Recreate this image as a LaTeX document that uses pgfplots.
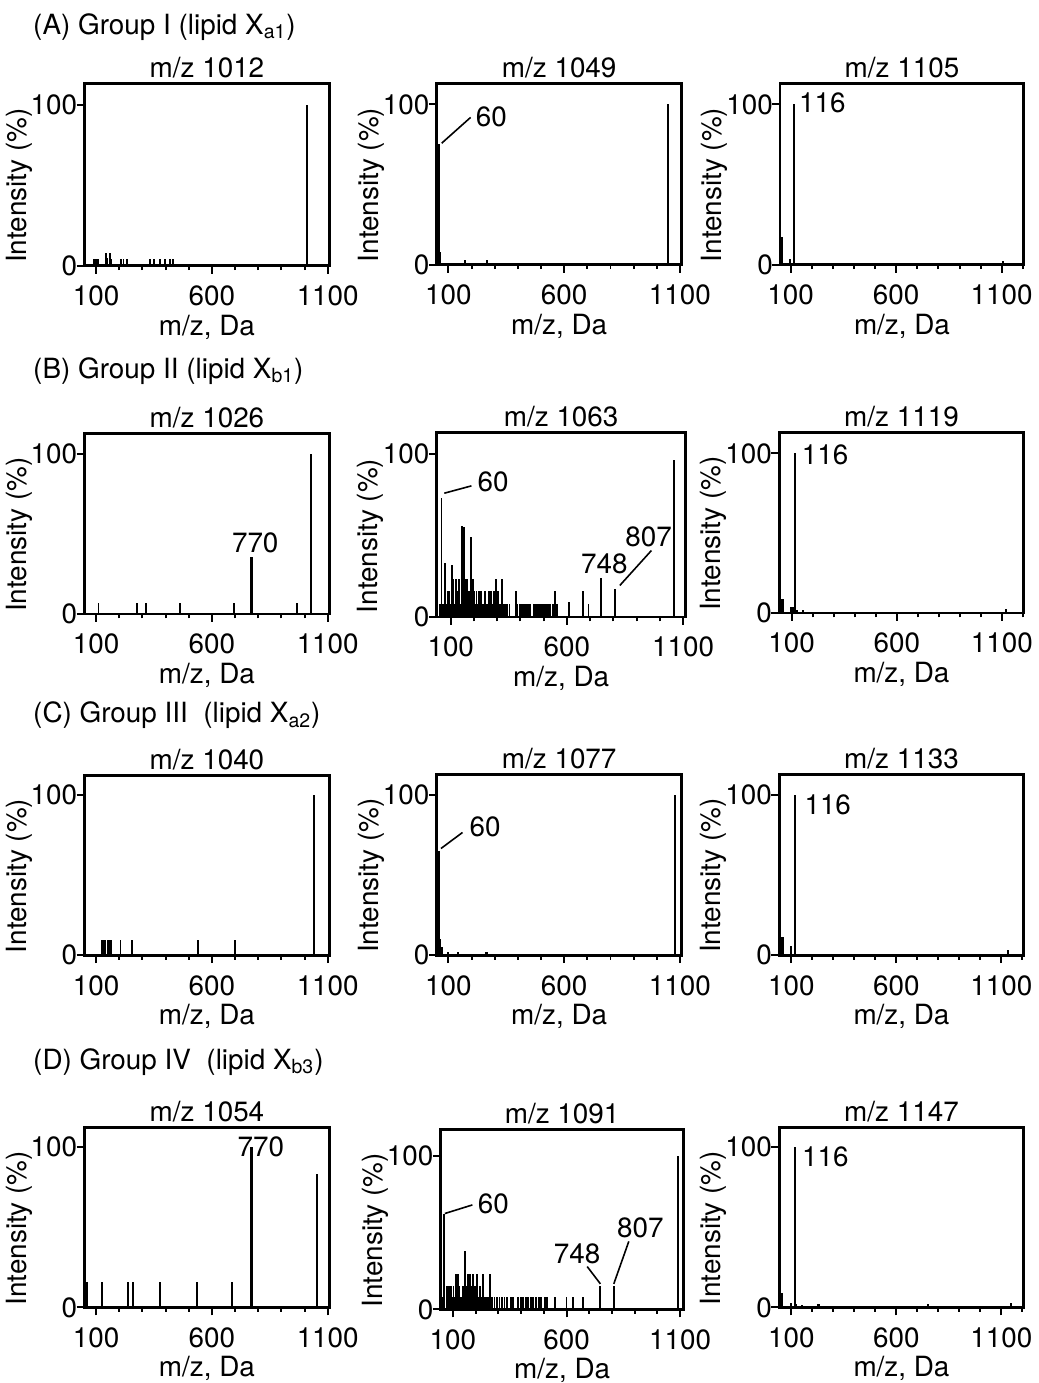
\documentclass[border=0pt]{standalone}
\usepackage{fontspec}
\setmainfont{TeX Gyre Heros}
\usepackage{pgfplots}
\pgfplotsset{compat=1.18}
\newcommand\fs{\fontsize{14bp}{16.5bp}\selectfont}
\tikzset{
 ann/.style={anchor=west, inner sep=0pt, font=\fs},
 annc/.style={anchor=center, inner sep=0pt, font=\fs},
 ld/.style={line width=0.8bp},
}
\pgfplotsset{
 ms/.style={
  scale only axis, anchor=south west, clip=false,
  ymin=0,
  axis line style={line width=1.4bp},
  xtick={100,600,1100}, xticklabels={100,600,1100},
  ytick={0,100}, yticklabels={0,100},
  minor xtick={200,300,400,500,700,800,900,1000},
  tick align=outside, xtick pos=left, ytick pos=left,
  major tick length=4bp, minor tick length=2.2bp,
  every tick/.style={line width=1bp, black},
  xticklabel style={anchor=north, inner sep=0pt, yshift=-6bp, font=\fs},
  yticklabel style={anchor=east, inner sep=0pt, xshift=0.5bp, font=\fs},
  xlabel={m/z, Da}, ylabel={Intensity (\%)},
  every axis x label/.style={at={(axis description cs:0.5,0)}, anchor=north, inner sep=0pt, yshift=-24.5bp, font=\fs},
  every axis y label/.style={at={(axis description cs:-0.212,0.44)}, rotate=90, anchor=south, inner sep=0pt, font=\fs},
  every axis title/.style={at={(axis description cs:0.5,1)}, anchor=south, inner sep=0pt, yshift=2.5bp, font=\fs},
 },
 c3/.style={minor xtick={200,300,400,500,700,800,900,1000,1200}},
 pk/.style={ycomb, black, line width=0.95bp, mark=none},
 pkt/.style={ycomb, black, line width=1.6bp, mark=none},
}
\begin{document}
\begin{tikzpicture}
\path (0,0) rectangle (522bp,-691.5bp);
\node[anchor=west,inner sep=0pt,font=\fs] at (16.5bp,-13.5bp) {(A) Group I (lipid X\textsubscript{a1})};
\node[anchor=west,inner sep=0pt,font=\fs] at (16.5bp,-186.5bp) {(B) Group II (lipid X\textsubscript{b1})};
\node[anchor=west,inner sep=0pt,font=\fs] at (16.5bp,-359.5bp) {(C) Group III\ \ (lipid X\textsubscript{a2})};
\node[anchor=west,inner sep=0pt,font=\fs] at (16.5bp,-533.5bp) {(D) Group IV\ \ (lipid X\textsubscript{b3})};

% ---------- Row A ----------
\begin{axis}[ms, at={(42.5bp,-133.5bp)}, width=123bp, height=91.5bp, xmin=50, xmax=1107, ymax=113, title={m/z 1012}]
\addplot[pk] coordinates {(90,4)(98,4)(108,4)(143,8)(147,5)(159,8)(165,4)(209,4)(218,4)(232,4)(331,4)(348,4)(377,4)(397,4)(417,4)(432,4)(1012,100)};
\end{axis}
\begin{axis}[ms, at={(219.5bp,-133bp)}, width=123bp, height=91bp, xmin=50, xmax=1107, ymax=113, title={m/z 1049}]
\addplot[pk] coordinates {(52,15)(56,18)(60,75)(64,8)(171,3)(268,3)(1049,100)};
\draw[ld] (axis cs:71,75.8) -- (axis cs:196,91.9);
\node[ann] at (axis cs:217,92) {60};
\end{axis}
\begin{axis}[ms, c3, at={(392bp,-133bp)}, width=122.5bp, height=91bp, xmin=50, xmax=1205, ymax=113, title={m/z 1105}]
\addplot[pk] coordinates {(52,17)(56,17)(60,17)(97,3.5)(116,100)(124,1)(183,1)(1105,2)};
\node[ann] at (axis cs:138,101) {116};
\end{axis}

% ---------- Row B ----------
\begin{axis}[ms, at={(42.5bp,-308.5bp)}, width=123bp, height=90.5bp, xmin=50, xmax=1107, ymax=112.4, title={m/z 1026}]
\addplot[pk] coordinates {(110,6.6)(275,6.6)(315,6.6)(462,6.6)(696,6.6)(966,6.6)(1026,100)};
\addplot[pkt] coordinates {(770,35.8)};
\node[anchor=south,inner sep=0pt,font=\fs] at (axis cs:787,38) {770};
\end{axis}
\begin{axis}[ms, at={(219.5bp,-310bp)}, width=125bp, height=92.5bp, xmin=40, xmax=1111, ymax=112.8, title={m/z 1063}]
\addplot[pk] coordinates {(52,8)(60,72.8)(64,8)(70,8)(77,33)(82,8)(86,16)(93,16)(99,8)(106,32)(111,23)(116,8)(121,23)(125,8)(129,16)(133,8)(137,23)(143,8)(150,56)(154,16)(157,55)(160,8)(164,23)(168,8)(171,23)(175,8)(179,16)(183,8)(187,49)(191,8)(194,23)(197,8)(200,16)(205,8)(211,16)(216,8)(221,16)(225,8)(229,16)(235,8)(240,8)(246,16)(250,8)(254,8)(259,8)(264,16)(269,8)(274,16)(280,8)(286,16)(290,8)(294,23)(298,8)(303,16)(307,8)(311,8)(319,23)(322,8)(326,8)(331,8)(336,8)(343,8)(353,8)(379,16)(386,8)(397,8)(406,8)(414,8)(423,8)(431,8)(440,8)(457,8)(466,8)(474,8)(483,8)(493,8)(500,8)(509,8)(517,8)(529,8)(539,8)(549,16)(557,8)(610,9)(669,16)(693,8)(748,24)(807,17)(1063,96)};
\draw[ld] (axis cs:72,75.8) -- (axis cs:189,80.3);
\node[ann] at (axis cs:214,83) {60};
\node[annc] at (axis cs:761,32.3) {748};
\node[annc] at (axis cs:952,48.8) {807};
\draw[ld] (axis cs:828,19.3) -- (axis cs:964,40.7);
\end{axis}
\begin{axis}[ms, c3, at={(391.5bp,-308bp)}, width=123bp, height=90.5bp, xmin=40, xmax=1205, ymax=112.9, title={m/z 1119}]
\addplot[pk] coordinates {(46,9)(50,9)(54,9)(58,9)(97,3.5)(105,3.5)(116,100)(124,2)(152,2)(218,0.8)(249,0.8)(297,0.8)(674,0.8)(752,0.8)(862,0.8)(1119,2.5)};
\node[ann] at (axis cs:147,99) {116};
\end{axis}

% ---------- Row C ----------
\begin{axis}[ms, at={(42.5bp,-480bp)}, width=123bp, height=90.5bp, xmin=50, xmax=1107, ymax=112.6, title={m/z 1040}]
\addplot[pk] coordinates {(126,9.3)(133,9.3)(140,9.3)(152,9.3)(159,9.3)(166,9.3)(205,9.3)(255,9.3)(540,9.3)(699,9.3)(1040,100)};
\end{axis}
\begin{axis}[ms, at={(219.5bp,-480bp)}, width=123bp, height=91bp, xmin=50, xmax=1107, ymax=113, title={m/z 1077}]
\addplot[pk] coordinates {(52,10)(57,10)(60,65)(66,10)(71,5)(97,2)(140,2)(219,1)(261,2)(269,2)(1077,100)};
\draw[ld] (axis cs:68,66.6) -- (axis cs:161,76.6);
\node[ann] at (axis cs:190,80.2) {60};
\end{axis}
\begin{axis}[ms, c3, at={(391.5bp,-480bp)}, width=123bp, height=91bp, xmin=42, xmax=1207, ymax=113, title={m/z 1133}]
\addplot[pk] coordinates {(50,11.4)(53,11.4)(57,11.4)(61,11.4)(97,6)(116,100)(124,1)(1133,3)};
\node[ann] at (axis cs:161,93.8) {116};
\end{axis}

% ---------- Row D ----------
\begin{axis}[ms, at={(42.5bp,-657bp)}, width=123bp, height=90.5bp, xmin=50, xmax=1107, ymax=112.4, title={m/z 1054}]
\addplot[pk] coordinates {(60,16)(124,16)(237,16)(258,16)(377,16)(534,16)(686,16)(1054,83.4)};
\addplot[pkt] coordinates {(770,100)};
\node[annc] at (axis cs:811,100) {770};
\end{axis}
\begin{axis}[ms, at={(221.5bp,-658bp)}, width=122bp, height=90.5bp, xmin=47, xmax=1115, ymax=117.5, title={m/z 1091}]
\addplot[pk] coordinates {(54,8)(60,62)(76,15)(80,8)(84,15)(88,8)(91,15)(95,8)(99,8)(103,15)(107,8)(113,23)(117,8)(121,23)(125,8)(128,15)(131,8)(135,8)(139,8)(144,15)(148,8)(153,38)(157,8)(160,15)(164,8)(168,23)(171,8)(175,23)(179,8)(183,15)(186,8)(190,23)(194,8)(197,15)(201,8)(205,23)(209,8)(212,8)(216,8)(221,15)(225,8)(231,23)(236,8)(242,8)(246,8)(250,8)(255,8)(260,8)(265,23)(271,8)(283,8)(293,8)(305,8)(315,8)(327,8)(339,8)(354,8)(364,8)(386,8)(398,8)(408,8)(420,8)(430,8)(442,8)(453,8)(464,8)(478,8)(489,8)(504,8)(516,8)(548,8)(600,8)(630,8)(674,8)(748,15.6)(807,15.6)(1091,100)};
\draw[ld] (axis cs:65,62.6) -- (axis cs:186,68.2);
\node[ann] at (axis cs:208,68.6) {60};
\node[annc] at (axis cs:647,36.2) {748};
\draw[ld] (axis cs:691,28) -- (axis cs:749,16.7);
\node[annc] at (axis cs:925,53) {807};
\draw[ld] (axis cs:874,44.4) -- (axis cs:808,16.7);
\end{axis}
\begin{axis}[ms, c3, at={(391.5bp,-657bp)}, width=123bp, height=90.5bp, xmin=42, xmax=1207, ymax=112.4, title={m/z 1147}]
\addplot[pk] coordinates {(50,9)(53,9)(56,9)(97,3)(116,100)(124,2)(152,1.5)(195,1)(226,2)(234,2)(258,1)(329,0.5)(408,0.5)(471,0.5)(534,0.5)(750,2)(1147,2.5)};
\node[ann] at (axis cs:150,94) {116};
\end{axis}
\end{tikzpicture}
\end{document}
